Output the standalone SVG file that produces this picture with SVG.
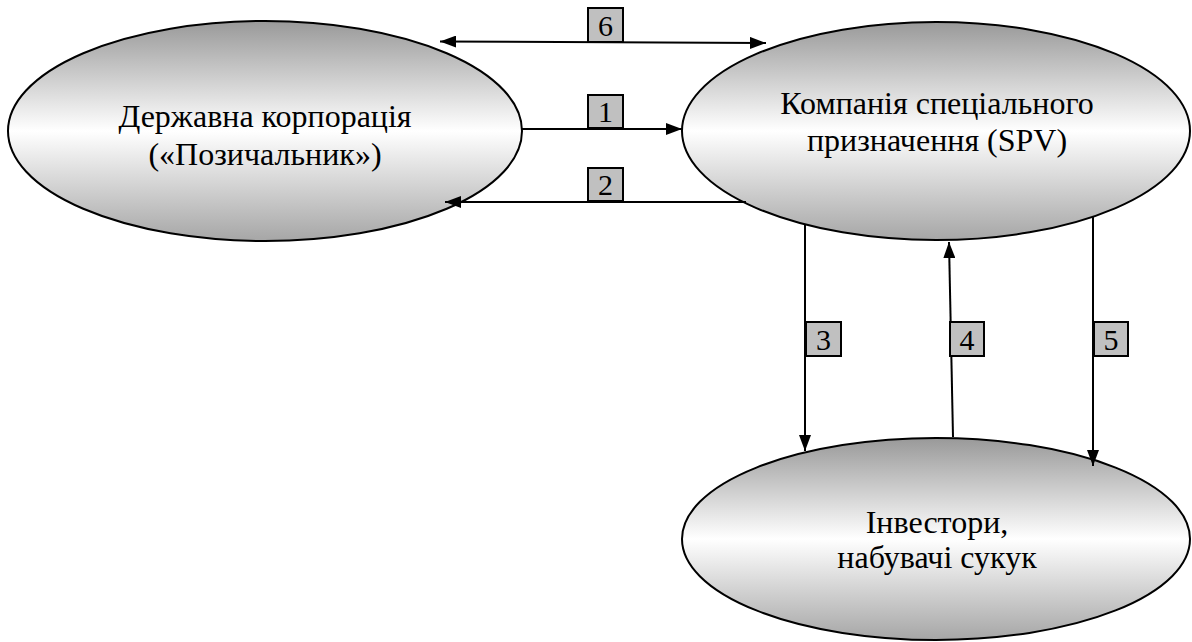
<svg xmlns="http://www.w3.org/2000/svg" width="1192" height="642" viewBox="0 0 1192 642">
<style>
.node ellipse{fill:url(#g);stroke:#000;stroke-width:2}
text{font-family:'Liberation Serif','Times New Roman',serif;fill:#000;text-anchor:middle}
.t{font-size:32px}
.c line{stroke:#000;stroke-width:2}
.lb rect{fill:#c0c0c0;stroke:#000;stroke-width:2}
.lb text{font-size:30px}
</style>
<defs>
<linearGradient id="g" x1="0" y1="0" x2="0" y2="1">
<stop offset="0" stop-color="#999"/>
<stop offset="0.5" stop-color="#fff"/>
<stop offset="1" stop-color="#a6a6a6"/>
</linearGradient>
<marker id="ah" viewBox="0 0 16 12" refX="16" refY="6" markerWidth="16" markerHeight="12" markerUnits="userSpaceOnUse" orient="auto-start-reverse">
<path d="M0,0L16,6L0,12z" fill="#000"/>
</marker>
</defs>
<rect width="1192" height="642" fill="#fff"/>
<g id="n1" class="node">
<ellipse cx="265" cy="131" rx="257" ry="110"/>
<text class="t" x="265" y="127">Державна корпорація</text>
<text class="t" x="265" y="165">(«Позичальник»)</text>
</g>
<g id="n2" class="node">
<ellipse cx="936" cy="131" rx="254" ry="109"/>
<text class="t" x="937" y="114">Компанія спеціального</text>
<text class="t" x="937" y="151">призначення (SPV)</text>
</g>
<g id="n3" class="node">
<ellipse cx="936" cy="539" rx="254" ry="101"/>
<text class="t" x="937" y="533">Інвестори,</text>
<text class="t" x="937" y="568">набувачі сукук</text>
</g>
<g id="connectors" class="c">
<line x1="440" y1="41.5" x2="766" y2="43" marker-start="url(#ah)" marker-end="url(#ah)"/>
<line x1="522" y1="129" x2="682" y2="129" marker-end="url(#ah)"/>
<line x1="746" y1="202" x2="445" y2="202" marker-end="url(#ah)"/>
<line x1="805" y1="225" x2="805" y2="451" marker-end="url(#ah)"/>
<line x1="953" y1="437" x2="949" y2="242" marker-end="url(#ah)"/>
<line x1="1093" y1="216" x2="1093" y2="466" marker-end="url(#ah)"/>
</g>
<g id="labels" class="lb">
<g id="l6"><rect x="588" y="8" width="35" height="34"/><text x="605.5" y="36">6</text></g>
<g id="l1"><rect x="588" y="95" width="35" height="33"/><text x="605.5" y="122">1</text></g>
<g id="l2"><rect x="588" y="168" width="35" height="33"/><text x="605.5" y="195">2</text></g>
<g id="l3"><rect x="806" y="322" width="35" height="34"/><text x="823.5" y="350">3</text></g>
<g id="l4"><rect x="950" y="322" width="34" height="34"/><text x="967" y="350">4</text></g>
<g id="l5"><rect x="1094" y="322" width="34" height="34"/><text x="1111" y="350">5</text></g>
</g>
</svg>
